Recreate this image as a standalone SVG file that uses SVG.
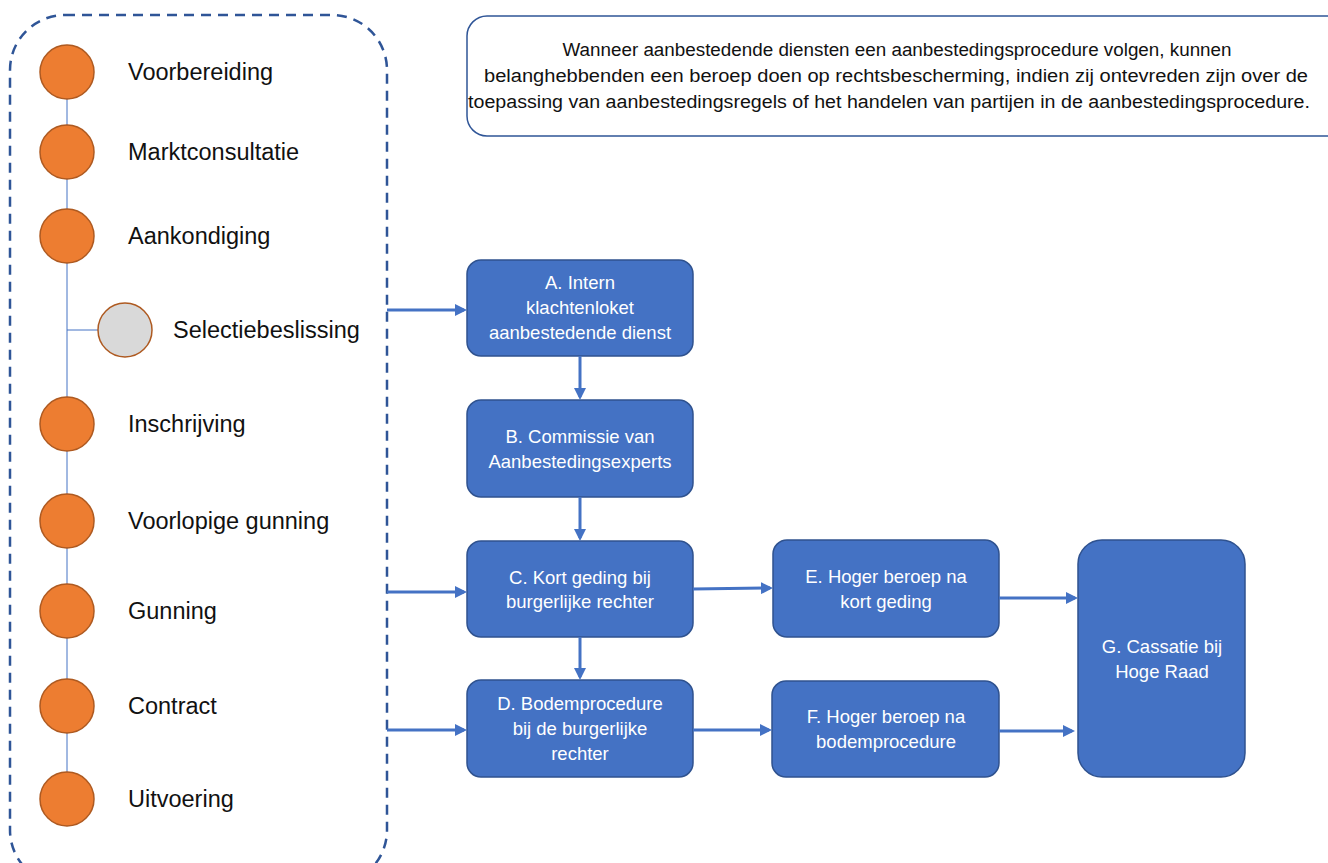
<svg xmlns="http://www.w3.org/2000/svg" width="1328" height="863" viewBox="0 0 1328 863">
<style>
.lbl{font-family:"Liberation Sans",Arial,sans-serif;font-size:23.5px;fill:#111}
.dot{fill:#ED7D31;stroke:#AE5A21;stroke-width:1.5}
.box{fill:#4472C4;stroke:#2F528F;stroke-width:1.5}
.bt{font-family:"Liberation Sans",Arial,sans-serif;font-size:18.5px;fill:#fff;text-anchor:middle}
.tt{font-family:"Liberation Sans",Arial,sans-serif;font-size:18px;fill:#111;text-anchor:middle}
.conn{stroke:#4472C4;stroke-width:3;fill:none;marker-end:url(#ah)}
</style>
<defs>
<marker id="ah" markerWidth="4" markerHeight="4" refX="3" refY="2" orient="auto" markerUnits="strokeWidth">
<path d="M0,0 L4,2 L0,4 Z" fill="#4472C4"/>
</marker>
</defs>
<rect width="1328" height="863" fill="#fff"/>
<g id="phases">
<rect x="10" y="15" width="377" height="870" rx="55" ry="55" fill="none" stroke="#2F5597" stroke-width="2.5" stroke-dasharray="10,7"/>
<line x1="67" y1="72" x2="67" y2="799" stroke="#4472C4" stroke-width="1"/>
<line x1="67" y1="330" x2="98" y2="330" stroke="#4472C4" stroke-width="1"/>
</g>
<g id="p1"><circle class="dot" cx="67" cy="72" r="27"/><text class="lbl" x="128" y="80">Voorbereiding</text></g>
<g id="p2"><circle class="dot" cx="67" cy="152" r="27"/><text class="lbl" x="128" y="160">Marktconsultatie</text></g>
<g id="p3"><circle class="dot" cx="67" cy="236" r="27"/><text class="lbl" x="128" y="244">Aankondiging</text></g>
<g id="p4"><circle cx="125" cy="330" r="27" fill="#D9D9D9" stroke="#AE5A21" stroke-width="1.5"/><text class="lbl" x="173" y="338">Selectiebeslissing</text></g>
<g id="p5"><circle class="dot" cx="67" cy="424" r="27"/><text class="lbl" x="128" y="432">Inschrijving</text></g>
<g id="p6"><circle class="dot" cx="67" cy="521" r="27"/><text class="lbl" x="128" y="529">Voorlopige gunning</text></g>
<g id="p7"><circle class="dot" cx="67" cy="611" r="27"/><text class="lbl" x="128" y="619">Gunning</text></g>
<g id="p8"><circle class="dot" cx="67" cy="706" r="27"/><text class="lbl" x="128" y="714">Contract</text></g>
<g id="p9"><circle class="dot" cx="67" cy="799" r="27"/><text class="lbl" x="128" y="807">Uitvoering</text></g>
<g id="intro">
<rect x="467" y="16" width="880" height="120" rx="20" ry="20" fill="#fff" stroke="#2F5597" stroke-width="1.5"/>
<text class="tt" x="897" y="56" textLength="669" lengthAdjust="spacingAndGlyphs">Wanneer aanbestedende diensten een aanbestedingsprocedure volgen, kunnen</text>
<text class="tt" x="896" y="82" textLength="824" lengthAdjust="spacingAndGlyphs">belanghebbenden een beroep doen op rechtsbescherming, indien zij ontevreden zijn over de</text>
<text class="tt" x="889" y="108" textLength="842" lengthAdjust="spacingAndGlyphs">toepassing van aanbestedingsregels of het handelen van partijen in de aanbestedingsprocedure.</text>
</g>
<g id="A"><rect class="box" x="467" y="260" width="226" height="96" rx="14"/>
<text class="bt" x="580" y="289">A. Intern</text><text class="bt" x="580" y="314">klachtenloket</text><text class="bt" x="580" y="339">aanbestedende dienst</text></g>
<g id="B"><rect class="box" x="467" y="400" width="226" height="97" rx="14"/>
<text class="bt" x="580" y="443">B. Commissie van</text><text class="bt" x="580" y="468">Aanbestedingsexperts</text></g>
<g id="C"><rect class="box" x="467" y="541" width="226" height="96" rx="14"/>
<text class="bt" x="580" y="584">C. Kort geding bij</text><text class="bt" x="580" y="608">burgerlijke rechter</text></g>
<g id="D"><rect class="box" x="467" y="680" width="226" height="97" rx="14"/>
<text class="bt" x="580" y="710">D. Bodemprocedure</text><text class="bt" x="580" y="735">bij de burgerlijke</text><text class="bt" x="580" y="760">rechter</text></g>
<g id="E"><rect class="box" x="773" y="540" width="226" height="97" rx="14"/>
<text class="bt" x="886" y="583">E. Hoger beroep na</text><text class="bt" x="886" y="608">kort geding</text></g>
<g id="F"><rect class="box" x="772" y="681" width="227" height="96" rx="14"/>
<text class="bt" x="886" y="723">F. Hoger beroep na</text><text class="bt" x="886" y="748">bodemprocedure</text></g>
<g id="G"><rect class="box" x="1078" y="540" width="167" height="237" rx="24"/>
<text class="bt" x="1162" y="653">G. Cassatie bij</text><text class="bt" x="1162" y="678">Hoge Raad</text></g>
<g id="connectors">
<line class="conn" x1="387" y1="310" x2="464" y2="310"/>
<line class="conn" x1="387" y1="592" x2="464" y2="592"/>
<line class="conn" x1="387" y1="730" x2="464" y2="730"/>
<line class="conn" x1="580" y1="356" x2="580" y2="397"/>
<line class="conn" x1="580" y1="497" x2="580" y2="538"/>
<line class="conn" x1="580" y1="637" x2="580" y2="677"/>
<line class="conn" x1="693" y1="589" x2="770" y2="588"/>
<line class="conn" x1="693" y1="730" x2="769" y2="730"/>
<line class="conn" x1="999" y1="598" x2="1075" y2="598"/>
<line class="conn" x1="999" y1="731" x2="1072" y2="731"/>
</g>
</svg>
